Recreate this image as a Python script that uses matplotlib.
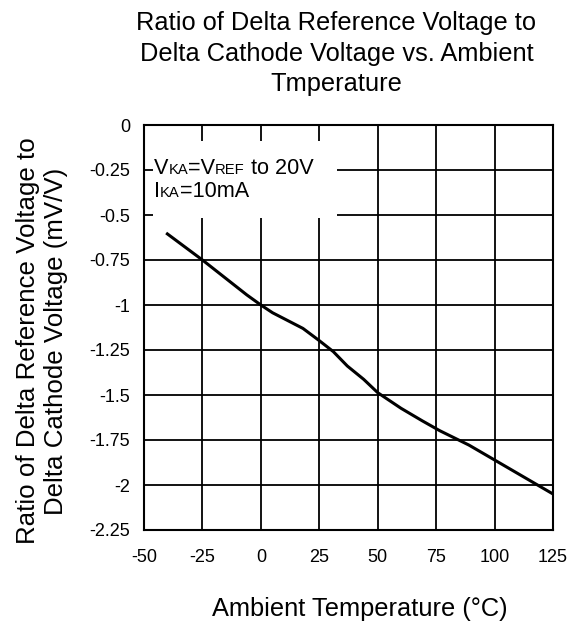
import matplotlib.pyplot as plt
from matplotlib.patches import Rectangle
from matplotlib.offsetbox import TextArea, HPacker, VPacker, AnchoredOffsetbox

plt.rcParams['font.family'] = ['Liberation Sans', 'DejaVu Sans']
plt.rcParams['axes.unicode_minus'] = False

# curve
temp = [-40, -25, -6, 0, 5, 18, 25, 31, 37, 44, 50, 60, 69, 76.5, 89, 100, 125]
ratio = [-0.605, -0.75, -0.944, -1.0, -1.043, -1.13, -1.198, -1.259, -1.339,
         -1.413, -1.487, -1.574, -1.643, -1.698, -1.778, -1.861, -2.05]

xticks = [-50, -25, 0, 25, 50, 75, 100, 125]
yticks = [0, -0.25, -0.5, -0.75, -1, -1.25, -1.5, -1.75, -2, -2.25]
ytick_labels = ['0', '-0.25', '-0.5', '-0.75', '-1', '-1.25', '-1.5', '-1.75', '-2', '-2.25']

title_lines = ['Ratio of Delta Reference Voltage to', 'Delta Cathode Voltage vs. Ambient', 'Tmperature']
ylabel_lines = ['Ratio of Delta Reference Voltage to', 'Delta Cathode Voltage (mV/V)']

W, H = 577, 625
fig = plt.figure(figsize=(W / 100, H / 100), dpi=100)
ax = fig.add_axes([144 / W, 1 - 530 / H, 409 / W, 405 / H])

ax.plot(temp, ratio, color='black', lw=2.2, zorder=4)

ax.set_xlim(-50, 125)
ax.set_ylim(-2.25, 0)
ax.set_xticks(xticks)
ax.set_yticks(yticks)
ax.set_yticklabels(ytick_labels)
ax.tick_params(length=0, labelsize=13)
ax.tick_params(axis='x', pad=14)
ax.tick_params(axis='y', pad=10)
ax.grid(True, color='black', lw=1.3, zorder=1)
for s in ax.spines.values():
    s.set_linewidth(1.5)
    s.set_zorder(5)

# white box behind the conditions text
ax.add_patch(Rectangle((-46.2, -0.517), 78.7, 0.428, facecolor='white',
                       edgecolor='none', zorder=2))

big = dict(size=15.6, color='black')
small = dict(size=10.6, color='black')
line1 = HPacker(children=[TextArea('V', textprops=big), TextArea('KA', textprops=small),
                          TextArea('=V', textprops=big), TextArea('REF', textprops=small),
                          TextArea(' to 20V', textprops=big)],
                align='baseline', pad=0, sep=0)
line2 = HPacker(children=[TextArea('I', textprops=big), TextArea('KA', textprops=small),
                          TextArea('=10mA', textprops=big)],
                align='baseline', pad=0, sep=0)
cond = VPacker(children=[line1, line2], align='left', pad=0, sep=1.5)
anch = AnchoredOffsetbox(loc='upper left', child=cond, frameon=False,
                         bbox_to_anchor=(154 / W, 1 - 158 / H),
                         bbox_transform=fig.transFigure, borderpad=0, pad=0)
anch.set_zorder(3)
ax.add_artist(anch)

# title: one text per line, placed on baselines
for txt, base in zip(title_lines, [30, 60.5, 91]):
    fig.text(336.5 / W, 1 - base / H, txt, ha='center', va='baseline', fontsize=18.3)

# y label, two rotated lines
for txt, base in zip(ylabel_lines, [35, 63]):
    fig.text(base / W, 1 - 341 / H, txt, rotation=90, rotation_mode='anchor',
             ha='center', va='baseline', fontsize=18.6)

ax.set_xlabel('Ambient Temperature (°C)', fontsize=18.3, labelpad=22, x=0.527)

fig.savefig('out.png', dpi=100)
